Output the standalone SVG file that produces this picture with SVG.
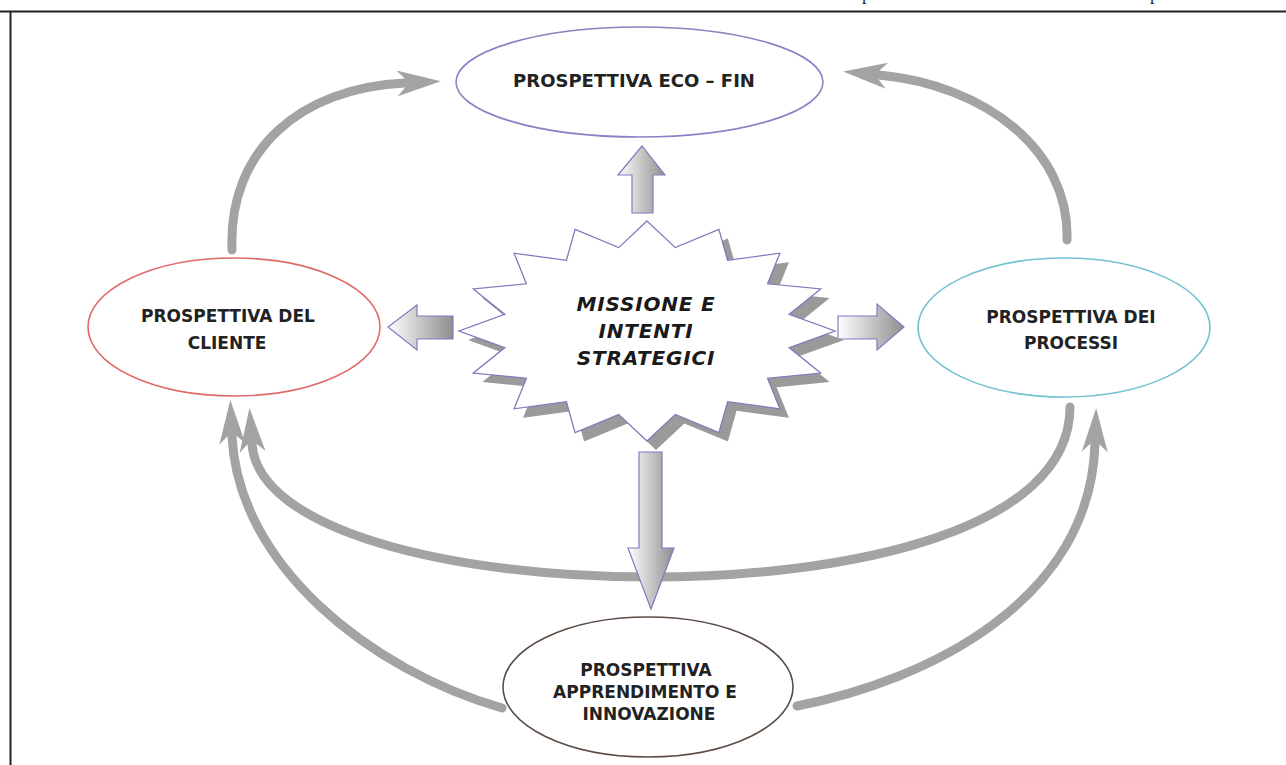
<svg xmlns="http://www.w3.org/2000/svg" width="1286" height="765" viewBox="0 0 1286 765">
<style>
.lbl{font-family:"DejaVu Sans","Liberation Sans",sans-serif;font-weight:bold;fill:#222;text-anchor:middle}
.mis{font-family:"DejaVu Sans","Liberation Sans",sans-serif;font-weight:bold;font-style:italic;fill:#1a1a1a;text-anchor:middle;font-size:20px;letter-spacing:0.8px}
.ell{fill:#fff;stroke-width:1.6}
.curve{fill:none;stroke:#a3a3a3;stroke-width:9;stroke-linecap:round;marker-end:url(#gh)}
.blk{stroke:#7f7cc0;stroke-width:1.2}
</style>
<defs>
<marker id="gh" markerUnits="userSpaceOnUse" markerWidth="60" markerHeight="40" viewBox="-12 -20 60 40" refX="0" refY="0" orient="auto" overflow="visible">
<path d="M36,0 L-8,-13 L0,-4.5 L0,4.5 L-8,13 Z" fill="#a3a3a3"/>
</marker>
<linearGradient id="gh1" x1="0" y1="0" x2="1" y2="0">
<stop offset="0" stop-color="#ffffff"/><stop offset="1" stop-color="#8e8e8e"/>
</linearGradient>
</defs>
<rect x="0" y="0" width="1286" height="765" fill="#fff"/>
<g id="frame">
<line x1="0" y1="11.5" x2="1286" y2="11.5" stroke="#222" stroke-width="2"/>
<line x1="10.5" y1="11" x2="10.5" y2="765" stroke="#222" stroke-width="2"/>
<text x="862" y="0" font-family="Liberation Serif,serif" font-size="18" fill="#222">p</text>
<text x="1150" y="0" font-family="Liberation Serif,serif" font-size="18" fill="#222">p</text>
</g>
<g id="connectors">
<path class="curve" d="M232,250 C228,150 300,88 405,83"/>
<path class="curve" d="M1067,240 C1070,150 985,85 879,75"/>
<path class="curve" d="M1070,407 C1070,530 850,577 650,577 C450,577 258,530 252,444"/>
<path class="curve" d="M502,708 C370,670 238,565 232,436"/>
<path class="curve" d="M797,706 C930,680 1090,600 1095,444"/>
<path class="blk" fill="url(#gh1)" d="M632,213 L632,175 L618,175 L642,146 L665,175 L653,175 L653,213 Z"/>
<path class="blk" fill="url(#gh1)" d="M453,316 L417,316 L417,305 L388,327 L417,350 L417,339 L453,339 Z"/>
<path class="blk" fill="url(#gh1)" d="M838,316 L877,316 L877,304 L904,327 L877,350 L877,339 L838,339 Z"/>
<path class="blk" fill="url(#gh1)" d="M639,452 L662,452 L662,548 L674,548 L651,609 L628,548 L639,548 Z"/>
</g>
<g id="node-ecofin">
<ellipse class="ell" cx="639.5" cy="82" rx="183.5" ry="55" stroke="#8a82c4"/>
<text class="lbl" x="634" y="87" font-size="18">PROSPETTIVA ECO – FIN</text>
</g>
<g id="node-cliente">
<ellipse class="ell" cx="234" cy="327" rx="146" ry="69" stroke="#e06a6a"/>
<text class="lbl" x="228" y="322" font-size="17">PROSPETTIVA DEL</text>
<text class="lbl" x="227" y="349" font-size="17">CLIENTE</text>
</g>
<g id="node-processi">
<ellipse class="ell" cx="1064" cy="327.5" rx="146" ry="69.5" stroke="#72c2d2"/>
<text class="lbl" x="1071" y="323" font-size="17">PROSPETTIVA DEI</text>
<text class="lbl" x="1071" y="349" font-size="17">PROCESSI</text>
</g>
<g id="node-apprendimento">
<ellipse class="ell" cx="648" cy="687" rx="145" ry="70" stroke="#5a4c44"/>
<text class="lbl" x="646" y="676" font-size="17">PROSPETTIVA</text>
<text class="lbl" x="645" y="698" font-size="17">APPRENDIMENTO E</text>
<text class="lbl" x="649" y="720" font-size="17">INNOVAZIONE</text>
</g>
<g id="node-missione">
<polygon fill="#9a9a9a" transform="translate(9,9)" points="647,221 675.3,247.6 718.9,229.4 727.6,260.3 779.9,253.2 767.6,283.8 820.7,288.9 789.2,314.4 835,331 789.2,347.6 820.7,373.1 767.6,378.2 779.9,408.8 727.6,401.7 718.9,432.6 675.3,414.4 647,441 618.7,414.4 575.1,432.6 566.4,401.7 514.1,408.8 526.4,378.2 473.3,373.1 504.8,347.6 459,331 504.8,314.4 473.3,288.9 526.4,283.8 514.1,253.2 566.4,260.3 575.1,229.4 618.7,247.6"/>
<polygon fill="#fff" stroke="#7f7abb" stroke-width="1.3" points="647,221 675.3,247.6 718.9,229.4 727.6,260.3 779.9,253.2 767.6,283.8 820.7,288.9 789.2,314.4 835,331 789.2,347.6 820.7,373.1 767.6,378.2 779.9,408.8 727.6,401.7 718.9,432.6 675.3,414.4 647,441 618.7,414.4 575.1,432.6 566.4,401.7 514.1,408.8 526.4,378.2 473.3,373.1 504.8,347.6 459,331 504.8,314.4 473.3,288.9 526.4,283.8 514.1,253.2 566.4,260.3 575.1,229.4 618.7,247.6"/>
<text class="mis" x="646" y="311">MISSIONE E</text>
<text class="mis" x="646" y="338">INTENTI</text>
<text class="mis" x="646" y="365">STRATEGICI</text>
</g>
</svg>
